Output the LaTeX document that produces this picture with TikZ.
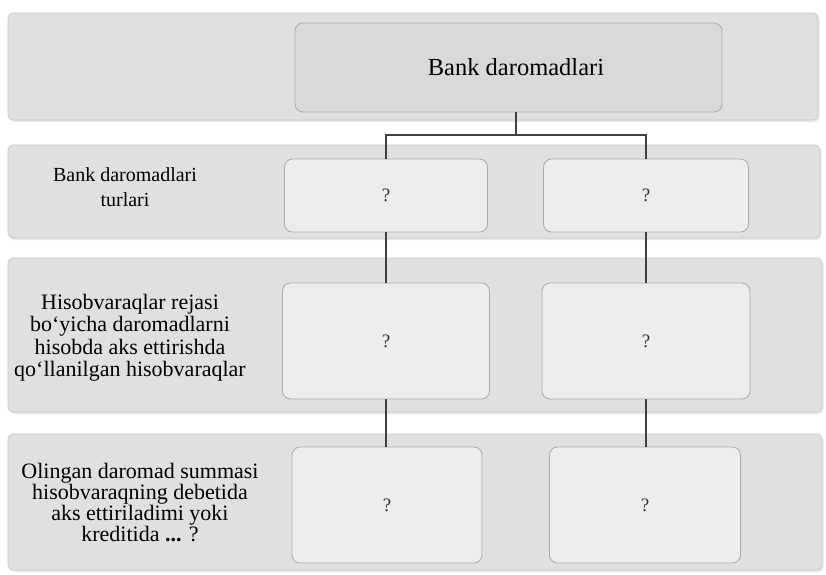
\documentclass[tikz,border=0pt]{standalone}
\usepackage{fontspec}
\setmainfont{Liberation Serif}
\usetikzlibrary{shadows}
\tikzset{
  band/.style={fill=gray!24, draw=gray!42, line width=0.8pt, rounded corners=5pt,
    drop shadow={opacity=0.18, shadow xshift=1.5pt, shadow yshift=-2pt}},
  qbox/.style={draw=gray!65, fill=gray!14, line width=0.9pt, rounded corners=8pt, inner sep=0pt, text=black!80, font=\fontsize{19}{22}\selectfont},
  topbox/.style={qbox, fill=gray!30, text=black, font=\fontsize{24.5}{28}\selectfont},
  lbl/.style={align=center, inner sep=0pt},
  conn/.style={draw=gray!50!black, line width=1.3pt}
}
\begin{document}
\begin{tikzpicture}[x=1pt, y=-1pt]
\useasboundingbox[fill=white] (0,0) rectangle (826,574);
% bands
\path[band] (8,13) rectangle (818,120);
\path[band] (8,145) rectangle (820,238);
\path[band] (8,258) rectangle (822,412);
\path[band] (8,434) rectangle (822,570);
% boxes
\node[topbox, minimum width=427pt, minimum height=89pt] (top) at (508.5,67.5) {\hspace*{15pt}Bank daromadlari};
\node[qbox, minimum width=203pt, minimum height=73pt] (r2l) at (386,195.5) {?};
\node[qbox, minimum width=205pt, minimum height=73pt] (r2r) at (646,195.5) {?};
\node[qbox, minimum width=207pt, minimum height=116pt] (r3l) at (386,341) {?};
\node[qbox, minimum width=208pt, minimum height=116pt] (r3r) at (646,341) {?};
\node[qbox, minimum width=190pt, minimum height=116pt] (r4l) at (387,505) {?};
\node[qbox, minimum width=191pt, minimum height=116pt] (r4r) at (645,505) {?};
% labels
\node[lbl, font=\fontsize{20}{25}\selectfont] (l2) at (125,187) {Bank daromadlari\\turlari};
\node[lbl, font=\fontsize{22}{22.5}\selectfont] (l3) at (130,337.5) {Hisobvaraqlar rejasi\\bo‘yicha daromadlarni\\hisobda aks ettirishda\\qo‘llanilgan hisobvaraqlar};
\node[lbl, font=\fontsize{22}{21}\selectfont] (l4) at (140,503) {Olingan daromad summasi\\hisobvaraqning debetida\\aks ettiriladimi yoki\\kreditida \textbf{...} ?};
% connectors
\coordinate (j) at (516,135);
\draw[conn] (j |- top.south) -- (j);
\draw[conn] (r2l.north) |- (j) -| (r2r.north);
\draw[conn] (r2l.south) -- (r3l.north);
\draw[conn] (r2r.south) -- (r3r.north);
\draw[conn] (r3l.south) -- (r4l.north -| r3l.south);
\draw[conn] (r3r.south) -- (r4r.north -| r3r.south);
\end{tikzpicture}
\end{document}
